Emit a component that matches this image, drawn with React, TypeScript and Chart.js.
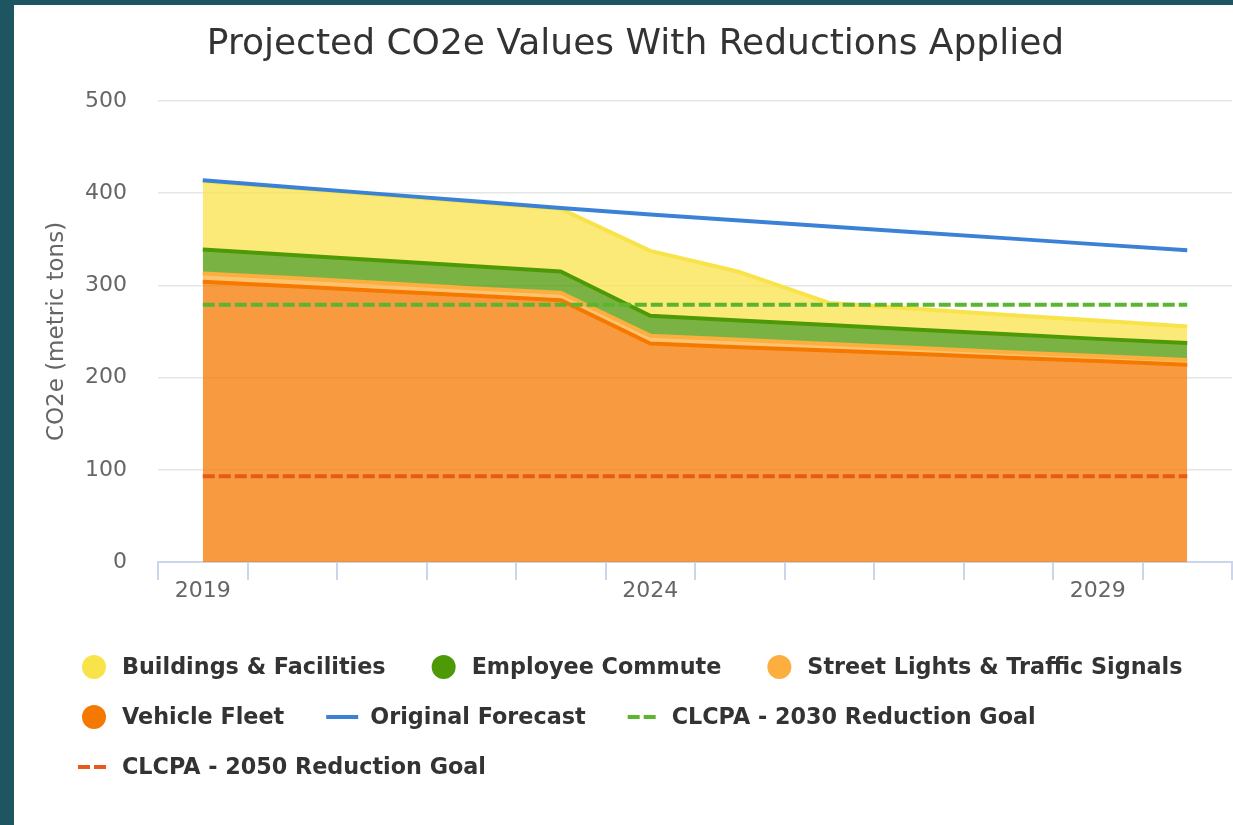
import { useEffect, useRef } from 'react';
import { Chart, registerables } from 'chart.js';

Chart.register(...registerables);

const YEARS = ['2019', '2020', '2021', '2022', '2023', '2024', '2025', '2026', '2027', '2028', '2029', '2030'];

// stacked bottom -> top
const VEHICLE_FLEET = [304, 299, 294, 289, 284, 237, 233, 229.5, 225.5, 221.5, 218, 214];
const STREET_LIGHTS = [9, 9, 8.5, 8, 8, 8.5, 8, 7, 6.5, 6, 5.5, 5];
const EMPLOYEE_COMMUTE = [26, 25, 24.5, 24, 23, 21.5, 21, 20.5, 20, 19.5, 18.5, 18.5];
const BUILDINGS = [74, 72.5, 71, 69.5, 68, 70.5, 52.5, 24, 22.5, 21, 20, 18];

const ORIGINAL_FORECAST = [414, 406.5, 399, 391.5, 384, 377, 370.5, 364, 357.5, 351, 344.5, 338];
const GOAL_2030 = [279, 279, 279, 279, 279, 279, 279, 279, 279, 279, 279, 279];
const GOAL_2050 = [93, 93, 93, 93, 93, 93, 93, 93, 93, 93, 93, 93];

const Y_MIN = 0;
const Y_MAX = 500;
const Y_STEP = 100;
const X_LABEL_EVERY = 5;

const FONT = "'DejaVu Sans', 'Liberation Sans', sans-serif";

const COLORS = {
  buildings: '#F9E34A',
  buildingsFill: 'rgba(249, 227, 74, 0.75)',
  commute: '#4E9A06',
  commuteFill: 'rgba(78, 154, 6, 0.75)',
  street: '#FCAF3E',
  streetFill: 'rgba(252, 175, 62, 0.75)',
  vehicle: '#F57900',
  vehicleFill: 'rgba(245, 121, 0, 0.75)',
  forecast: '#3B82D6',
  goal2030: '#5CB531',
  goal2050: '#E65A1E',
};

// order in which legend entries appear (dataset indices)
const LEGEND_ORDER = [3, 2, 1, 0, 4, 5, 6];

const bottomLegend = {
  id: 'bottomLegend',
  afterDraw(chart: any) {
    const ctx = chart.ctx as CanvasRenderingContext2D;
    const left = 64;
    const top = 662;
    const rowHeight = 50;
    const symbolWidth = 32;
    const textGap = 12;
    const itemGap = 42;
    const maxRight = chart.width - 20;
    ctx.save();
    ctx.font = `bold 22.3px ${FONT}`;
    ctx.textBaseline = 'middle';
    ctx.textAlign = 'left';
    let x = left;
    let row = 0;
    for (const idx of LEGEND_ORDER) {
      const ds = chart.data.datasets[idx];
      const tw = ctx.measureText(ds.label).width;
      const w = symbolWidth + textGap + tw;
      if (x > left && x + w > maxRight) {
        row += 1;
        x = left;
      }
      const cy = top + row * rowHeight;
      if (ds.legendSymbol === 'circle') {
        ctx.beginPath();
        ctx.arc(x + symbolWidth / 2, cy, 12, 0, Math.PI * 2);
        ctx.fillStyle = ds.borderColor;
        ctx.fill();
      } else {
        ctx.beginPath();
        ctx.setLineDash(ds.borderDash || []);
        ctx.lineWidth = ds.borderWidth;
        ctx.strokeStyle = ds.borderColor;
        ctx.moveTo(x, cy);
        ctx.lineTo(x + symbolWidth, cy);
        ctx.stroke();
        ctx.setLineDash([]);
      }
      ctx.fillStyle = '#333333';
      ctx.fillText(ds.label, x + symbolWidth + textGap, cy + 1);
      x += w + itemGap;
    }
    ctx.restore();
  },
};

export default function App() {
  const canvasRef = useRef<HTMLCanvasElement | null>(null);

  useEffect(() => {
    if (!canvasRef.current) return;
    const chart = new Chart(canvasRef.current, {
      type: 'line',
      data: {
        labels: YEARS,
        datasets: [
          {
            label: 'Vehicle Fleet',
            data: VEHICLE_FLEET,
            stack: 'areas',
            fill: 'origin',
            borderColor: COLORS.vehicle,
            backgroundColor: COLORS.vehicleFill,
            borderWidth: 4,
            order: 1,
            legendSymbol: 'circle',
          } as any,
          {
            label: 'Street Lights & Traffic Signals',
            data: STREET_LIGHTS,
            stack: 'areas',
            fill: '-1',
            borderColor: COLORS.street,
            backgroundColor: COLORS.streetFill,
            borderWidth: 4,
            order: 2,
            legendSymbol: 'circle',
          } as any,
          {
            label: 'Employee Commute',
            data: EMPLOYEE_COMMUTE,
            stack: 'areas',
            fill: '-1',
            borderColor: COLORS.commute,
            backgroundColor: COLORS.commuteFill,
            borderWidth: 4,
            order: 3,
            legendSymbol: 'circle',
          } as any,
          {
            label: 'Buildings & Facilities',
            data: BUILDINGS,
            stack: 'areas',
            fill: '-1',
            borderColor: COLORS.buildings,
            backgroundColor: COLORS.buildingsFill,
            borderWidth: 4,
            order: 4,
            legendSymbol: 'circle',
          } as any,
          {
            label: 'Original Forecast',
            data: ORIGINAL_FORECAST,
            stack: 'forecast',
            fill: false,
            borderColor: COLORS.forecast,
            backgroundColor: COLORS.forecast,
            borderWidth: 4,
            order: 0,
            legendSymbol: 'line',
          } as any,
          {
            label: 'CLCPA - 2030 Reduction Goal',
            data: GOAL_2030,
            stack: 'goal2030',
            fill: false,
            borderColor: COLORS.goal2030,
            backgroundColor: COLORS.goal2030,
            borderWidth: 4,
            borderDash: [12, 4],
            order: 0,
            legendSymbol: 'line',
          } as any,
          {
            label: 'CLCPA - 2050 Reduction Goal',
            data: GOAL_2050,
            stack: 'goal2050',
            fill: false,
            borderColor: COLORS.goal2050,
            backgroundColor: COLORS.goal2050,
            borderWidth: 4,
            borderDash: [12, 4],
            order: 0,
            legendSymbol: 'line',
          } as any,
        ],
      },
      options: {
        responsive: false,
        animation: false,
        devicePixelRatio: 1,
        elements: {
          point: { radius: 0, hoverRadius: 0 },
          line: { tension: 0, borderCapStyle: 'butt', borderJoinStyle: 'round' },
        },
        layout: { padding: { left: 25, right: 1, top: 0, bottom: 213 } },
        plugins: {
          legend: { display: false },
          tooltip: { enabled: false },
          title: {
            display: true,
            text: 'Projected CO2e Values With Reductions Applied',
            color: '#333333',
            font: { family: FONT, size: 36, weight: 'normal' },
            padding: { top: 18, bottom: 34.8 },
          },
        },
        scales: {
          x: {
            type: 'category',
            offset: true,
            grid: {
              offset: true,
              drawOnChartArea: false,
              drawTicks: true,
              tickLength: 18,
              color: '#ccd6eb',
              lineWidth: 2,
            },
            border: { display: true, color: '#ccd6eb', width: 2 },
            ticks: {
              autoSkip: false,
              maxRotation: 0,
              padding: 0,
              color: '#666666',
              font: { family: FONT, size: 22, lineHeight: 1.05 },
              callback: (_v: any, i: number) => (i % X_LABEL_EVERY === 0 ? YEARS[i] : ''),
            },
            afterFit: (s: any) => {
              s.height = 50;
            },
          },
          y: {
            stacked: true,
            min: Y_MIN,
            max: Y_MAX,
            ticks: {
              stepSize: Y_STEP,
              padding: 31,
              color: '#666666',
              font: { family: FONT, size: 22 },
            },
            grid: { color: '#e6e6e6', lineWidth: 1.6, drawTicks: false },
            border: { display: false },
            title: {
              display: true,
              text: 'CO2e (metric tons)',
              color: '#666666',
              font: { family: FONT, size: 23 },
              padding: { top: 4, bottom: 4 },
            },
            afterFit: (s: any) => {
              s.width = 119;
            },
          },
        },
      } as any,
      plugins: [bottomLegend],
    });
    return () => chart.destroy();
  }, []);

  return (
    <div
      style={{
        position: 'relative',
        width: 1233,
        height: 825,
        background: '#1d5560',
        overflow: 'hidden',
      }}
    >
      <style>{'body{margin:0;}'}</style>
      <canvas
        ref={canvasRef}
        width={1219}
        height={820}
        style={{ position: 'absolute', left: 14, top: 5, background: '#ffffff', display: 'block' }}
      />
    </div>
  );
}
